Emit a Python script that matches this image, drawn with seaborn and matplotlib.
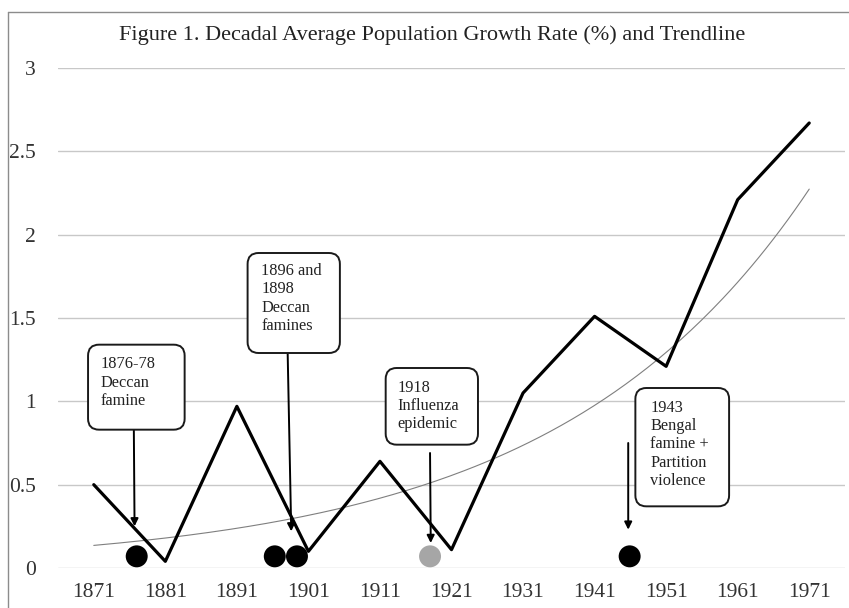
import numpy as np
import matplotlib.pyplot as plt
import matplotlib.transforms as mtransforms
from matplotlib.patches import FancyBboxPatch
from matplotlib.lines import Line2D
import seaborn as sns
import pandas as pd

# decadal average growth rate (%)
years = [1871, 1881, 1891, 1901, 1911, 1921, 1931, 1941, 1951, 1961, 1971]
growth = [0.50, 0.04, 0.97, 0.10, 0.64, 0.11, 1.05, 1.51, 1.21, 2.21, 2.67]

# event markers (position along the time axis, height of the dot)
event_years = [1877.0, 1896.3, 1899.4, 1918.0, 1945.9]
event_level = [0.07, 0.07, 0.07, 0.07, 0.07]
event_kind = ["famine", "famine", "famine", "epidemic", "famine"]

# callout texts
callouts = ["1876-78\nDeccan\nfamine",
            "1896 and\n1898\nDeccan\nfamines",
            "1918\nInfluenza\nepidemic",
            "1943\nBengal\nfamine +\nPartition\nviolence"]

ytick_vals = [0, 0.5, 1, 1.5, 2, 2.5, 3]
ytick_labels = ["0", "0.5", "1", "1.5", "2", "2.5", "3"]

sns.set_theme(style="white")
plt.rcParams['font.family'] = ['Liberation Serif', 'DejaVu Serif']

df = pd.DataFrame({'year': years, 'growth': growth})
events = pd.DataFrame({'year': event_years, 'level': event_level, 'kind': event_kind})

# exponential trendline (least squares on log values, like a spreadsheet trendline)
idx = np.arange(1, len(years) + 1)
b, a = np.polyfit(idx, np.log(growth), 1)
fine = np.linspace(1, len(years), 200)
trend = pd.DataFrame({'year': years[0] + (fine - 1) * 10, 'growth': np.exp(a + b * fine)})

fig = plt.figure(figsize=(8.49, 6.08), dpi=100)
ax = fig.add_axes([58 / 849, 40 / 608, 787 / 849, 500 / 608])

sns.lineplot(data=trend, x='year', y='growth', color='#7f7f7f', lw=0.8, ax=ax)
sns.lineplot(data=df, x='year', y='growth', color='black', lw=2.3, ax=ax)
sns.scatterplot(data=events, x='year', y='level', hue='kind',
                palette={'famine': 'black', 'epidemic': '#a6a6a6'},
                s=250, edgecolor='none', legend=False, ax=ax, zorder=5)

ax.set_xlim(1866, 1976)
ax.set_ylim(0, 3)
ax.set_xticks(years)
ax.set_xticklabels([str(y) for y in years], fontsize=15.5, color='#333333')
ax.set_yticks(ytick_vals)
ax.set_yticklabels(ytick_labels, fontsize=15.5, color='#333333')
ax.tick_params(axis='x', length=0, pad=11)
ax.tick_params(axis='y', length=0, pad=16)
ax.set_xlabel('')
ax.set_ylabel('')
ax.yaxis.grid(True, color='#c8c8c8', lw=1)
ax.set_axisbelow(True)
for sp in ax.spines.values():
    sp.set_visible(False)

# callout boxes: corners in data units, text anchored top-left
boxes = [(1870.2, 0.83, 1883.7, 1.34),
         (1892.5, 1.29, 1905.4, 1.89),
         (1911.8, 0.74, 1924.7, 1.20),
         (1946.7, 0.37, 1959.8, 1.08)]
text_pos = [(1872.0, 1.27), (1894.4, 1.83), (1913.4, 1.13), (1948.8, 1.01)]
arrows = [((1876.6, 0.83), (1876.7, 0.25)),
          ((1898.1, 1.29), (1898.6, 0.22)),
          ((1918.0, 0.69), (1918.1, 0.15)),
          ((1945.7, 0.75), (1945.7, 0.23))]

for (x0, y0, x1, y1), (tx, ty), label in zip(boxes, text_pos, callouts):
    p0 = ax.transData.transform((x0, y0))
    p1 = ax.transData.transform((x1, y1))
    patch = FancyBboxPatch(p0, p1[0] - p0[0], p1[1] - p0[1],
                           boxstyle='round,pad=0,rounding_size=11',
                           transform=mtransforms.IdentityTransform(),
                           facecolor='white', edgecolor='#1a1a1a', lw=1.4, zorder=6)
    fig.add_artist(patch)
    fig.text(*fig.transFigure.inverted().transform(ax.transData.transform((tx, ty))),
             label, fontsize=11.8, color='#222222', ha='left', va='top',
             linespacing=1.2, zorder=7)

for start, tip in arrows:
    ax.annotate('', xy=tip, xytext=start,
                arrowprops=dict(arrowstyle='-|>', color='black', lw=1.4,
                                mutation_scale=11, shrinkA=0, shrinkB=0), zorder=6)

fig.text(432 / 849, 1 - 35 / 608,
         "Figure 1. Decadal Average Population Growth Rate (%) and Trendline",
         ha='center', va='center', fontsize=16, color='#222222')

# outer frame of the chart area (only top and left edges are inside the crop)
fig.add_artist(Line2D([8 / 849, 8 / 849], [0, 1 - 12 / 608], transform=fig.transFigure,
                      color='#8c8c8c', lw=1))
fig.add_artist(Line2D([8 / 849, 1], [1 - 12 / 608, 1 - 12 / 608], transform=fig.transFigure,
                      color='#8c8c8c', lw=1))

fig.savefig('out.png', dpi=100)
